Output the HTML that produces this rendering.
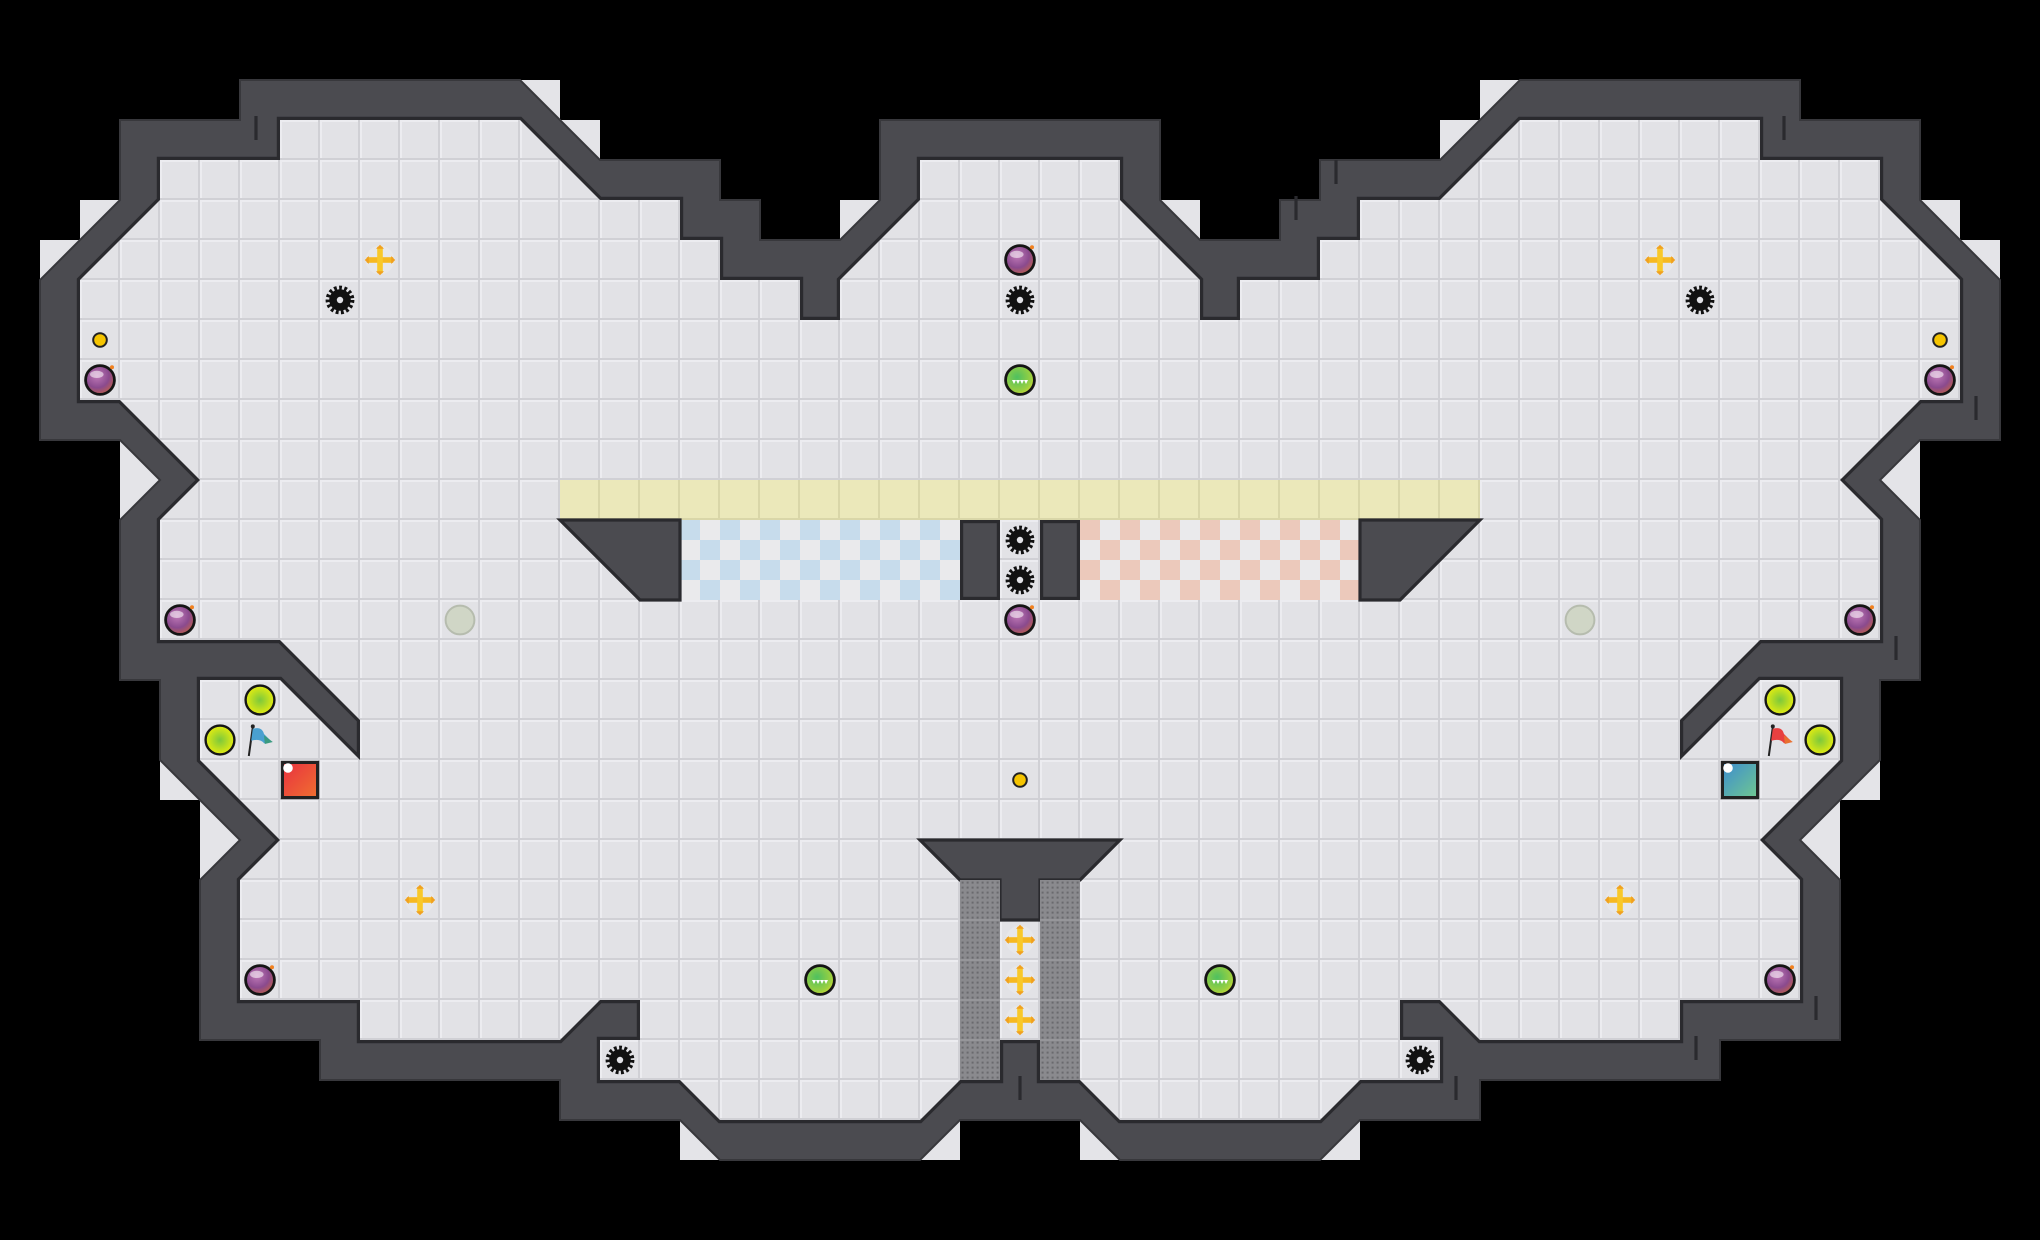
<!DOCTYPE html>
<html><head><meta charset="utf-8"><style>
html,body{margin:0;padding:0;background:#000;}
svg{display:block;}
</style></head><body>
<svg width="2040" height="1240" viewBox="0 0 51 31" xmlns="http://www.w3.org/2000/svg">
<defs>
<pattern id="tile" patternUnits="userSpaceOnUse" width="1" height="1">
<rect width="1" height="1" fill="#e2e2e6"/>
<rect x="0" y="0" width="1" height="0.05" fill="#ececf0"/>
<rect x="0" y="0" width="0.05" height="1" fill="#ececf0"/>
<rect x="0" y="0.95" width="1" height="0.05" fill="#d0d0d5"/>
<rect x="0.95" y="0" width="0.05" height="1" fill="#d0d0d5"/>
</pattern>
<pattern id="ytile" patternUnits="userSpaceOnUse" width="1" height="1">
<rect width="1" height="1" fill="#ebe8ba"/>
<rect x="0.95" y="0" width="0.05" height="1" fill="#d9d6a8"/>
<rect x="0" y="0.95" width="1" height="0.05" fill="#d9d6a8"/>
</pattern>
<pattern id="bchk" patternUnits="userSpaceOnUse" width="1" height="1">
<rect width="1" height="1" fill="#eaeaec"/>
<rect x="0" y="0" width="0.5" height="0.5" fill="#c7dcec"/>
<rect x="0.5" y="0.5" width="0.5" height="0.5" fill="#c7dcec"/>
</pattern>
<pattern id="rchk" patternUnits="userSpaceOnUse" width="1" height="1">
<rect width="1" height="1" fill="#eaeaec"/>
<rect x="0" y="0" width="0.5" height="0.5" fill="#ecc9bb"/>
<rect x="0.5" y="0.5" width="0.5" height="0.5" fill="#ecc9bb"/>
</pattern>
<pattern id="grate" patternUnits="userSpaceOnUse" width="0.125" height="0.125">
<rect width="0.125" height="0.125" fill="#8a8a8e"/>
<rect x="0.04" y="0.04" width="0.05" height="0.05" fill="#6a6a6e"/>
</pattern>
<radialGradient id="bomb" cx="0.4" cy="0.35" r="0.7"><stop offset="0" stop-color="#c07ab8"/><stop offset="0.6" stop-color="#8a4a8e"/><stop offset="1" stop-color="#c0604a"/></radialGradient>
<radialGradient id="green" cx="0.4" cy="0.4" r="0.7"><stop offset="0" stop-color="#4ec060"/><stop offset="0.7" stop-color="#9ad040"/><stop offset="1" stop-color="#e0e030"/></radialGradient>
<radialGradient id="lime" cx="0.5" cy="0.5" r="0.5"><stop offset="0" stop-color="#7cc83c"/><stop offset="1" stop-color="#e4ec10"/></radialGradient>
<linearGradient id="redsq" x1="0" y1="0" x2="1" y2="1"><stop offset="0" stop-color="#e83040"/><stop offset="1" stop-color="#f07030"/></linearGradient>
<linearGradient id="tealsq" x1="0" y1="0" x2="1" y2="1"><stop offset="0" stop-color="#3c8cd0"/><stop offset="1" stop-color="#70c890"/></linearGradient>
<g id="bombg"><circle r="0.36" fill="url(#bomb)" stroke="#151515" stroke-width="0.07"/><ellipse cx="-0.08" cy="-0.14" rx="0.17" ry="0.09" fill="#fff" opacity="0.55"/><circle cx="0.3" cy="-0.32" r="0.05" fill="#f08020"/></g>
<g id="gear"><circle r="0.27" fill="#111"/><circle r="0.31" fill="none" stroke="#111" stroke-width="0.1" stroke-dasharray="0.07 0.06"/><circle r="0.08" fill="#e2e2e6"/></g>
<g id="boost"><circle r="0.36" fill="#e8e8ea" opacity="0.8"/><rect x="-0.33" y="-0.07" width="0.66" height="0.14" fill="#f6b820"/><rect x="-0.07" y="-0.33" width="0.14" height="0.66" fill="#f8c828"/><path d="M-0.38 0 L-0.28 -0.1 L-0.28 0.1Z M0.38 0 L0.28 -0.1 L0.28 0.1Z M0 -0.38 L-0.1 -0.28 L0.1 -0.28Z M0 0.38 L-0.1 0.28 L0.1 0.28Z" fill="#f0a020"/></g>
<g id="gball"><circle r="0.36" fill="url(#green)" stroke="#151515" stroke-width="0.07"/><path d="M-0.2 0 L0.2 0 L0.15 0.1 L0.1 0 L0.05 0.1 L0 0 L-0.05 0.1 L-0.1 0 L-0.15 0.1Z" fill="#fff"/></g>
<g id="lball"><circle r="0.36" fill="url(#lime)" stroke="#151515" stroke-width="0.06"/></g>
</defs>

<!-- light tile squares behind diagonal walls -->
<g fill="#e4e4e8">
<rect x="13" y="2" width="1" height="1"/><rect x="14" y="3" width="1" height="1"/><rect x="21" y="5" width="1" height="1"/>
<rect x="2" y="5" width="1" height="1"/><rect x="1" y="6" width="1" height="1"/><rect x="3" y="11" width="1" height="2"/>
<rect x="4" y="19" width="1" height="1"/><rect x="5" y="20" width="1" height="2"/><rect x="17" y="28" width="1" height="1"/><rect x="23" y="28" width="1" height="1"/>
<rect x="37" y="2" width="1" height="1"/><rect x="36" y="3" width="1" height="1"/><rect x="29" y="5" width="1" height="1"/>
<rect x="48" y="5" width="1" height="1"/><rect x="49" y="6" width="1" height="1"/><rect x="47" y="11" width="1" height="2"/>
<rect x="46" y="19" width="1" height="1"/><rect x="45" y="20" width="1" height="2"/><rect x="33" y="28" width="1" height="1"/><rect x="27" y="28" width="1" height="1"/>
</g>

<!-- outer wall -->
<polygon fill="#4b4b50" stroke="#38383c" stroke-width="0.05" points="22,3 22,5 21,6 19,6 19,5 18,5 18,4 15,4 13,2 6,2 6,3 3,3 3,5 1,7 1,11 3,11 4,12 3,13 3,17 4,17 4,19 6,21 5,22 5,26 8,26 8,27 14,27 14,28 17,28 18,29 23,29 24,28 27,28 28,29 33,29 34,28 37,28 37,27 43,27 43,26 46,26 46,22 45,21 47,19 47,17 48,17 48,13 47,12 48,11 50,11 50,7 48,5 48,3 45,3 45,2 38,2 36,4 33,4 33,5 32,5 32,6 30,6 29,5 29,3"/>

<!-- floor -->
<polygon fill="url(#tile)" stroke="#2a2a2e" stroke-width="0.16" stroke-linejoin="miter" points="23,4 23,5 21,7 21,8 20,8 20,7 18,7 18,6 17,6 17,5 15,5 13,3 7,3 7,4 4,4 4,5 2,7 2,10 3,10 5,12 4,13 4,16 7,16 9,18 9,19 7,17 5,17 5,19 7,21 6,22 6,25 9,25 9,26 14,26 15,25 16,25 16,26 15,26 15,27 17,27 18,28 23,28 24,27 25,27 25,26 26,26 26,27 27,27 28,28 33,28 34,27 36,27 36,26 35,26 35,25 36,25 37,26 42,26 42,25 45,25 45,22 44,21 46,19 46,17 44,17 42,19 42,18 44,16 47,16 47,13 46,12 48,10 49,10 49,7 47,5 47,4 44,4 44,3 38,3 36,5 34,5 34,6 33,6 33,7 31,7 31,8 30,8 30,7 28,5 28,4"/>
<polygon fill="url(#tile)" points="23,4 23,5 21,7 21,8 20,8 20,7 18,7 18,6 17,6 17,5 15,5 13,3 7,3 7,4 4,4 4,5 2,7 2,10 3,10 5,12 4,13 4,16 7,16 9,18 9,19 7,17 5,17 5,19 7,21 6,22 6,25 9,25 9,26 14,26 15,25 16,25 16,26 15,26 15,27 17,27 18,28 23,28 24,27 25,27 25,26 26,26 26,27 27,27 28,28 33,28 34,27 36,27 36,26 35,26 35,25 36,25 37,26 42,26 42,25 45,25 45,22 44,21 46,19 46,17 44,17 42,19 42,18 44,16 47,16 47,13 46,12 48,10 49,10 49,7 47,5 47,4 44,4 44,3 38,3 36,5 34,5 34,6 33,6 33,7 31,7 31,8 30,8 30,7 28,5 28,4"/>

<!-- small wall notches -->
<g stroke="#2a2a2e" stroke-width="0.08">
<line x1="6.4" y1="2.9" x2="6.4" y2="3.5"/><line x1="44.6" y1="2.9" x2="44.6" y2="3.5"/>
<line x1="25.5" y1="26.9" x2="25.5" y2="27.5"/>
<line x1="32.4" y1="4.9" x2="32.4" y2="5.5"/><line x1="33.4" y1="4" x2="33.4" y2="4.6"/>
<line x1="49.4" y1="9.9" x2="49.4" y2="10.5"/><line x1="47.4" y1="15.9" x2="47.4" y2="16.5"/>
<line x1="45.4" y1="24.9" x2="45.4" y2="25.5"/><line x1="42.4" y1="25.9" x2="42.4" y2="26.5"/>
<line x1="36.4" y1="26.9" x2="36.4" y2="27.5"/>
</g>

<!-- middle bar -->
<rect x="14" y="12" width="23" height="1" fill="url(#ytile)"/>
<rect x="17" y="13" width="7" height="2" fill="url(#bchk)"/>
<rect x="27" y="13" width="7" height="2" fill="url(#rchk)"/>
<g fill="#4b4b50" stroke="#2a2a2e" stroke-width="0.08">
<polygon points="14,13 17,13 17,15 16,15"/>
<polygon points="37,13 34,13 34,15 35,15"/>
<rect x="24.04" y="13.04" width="0.92" height="1.92"/>
<rect x="26.04" y="13.04" width="0.92" height="1.92"/>
<polygon points="23,21 28,21 27,22 26,22 26,23 25,23 25,22 24,22"/>
</g>
<rect x="24" y="22" width="1" height="5" fill="url(#grate)"/>
<rect x="26" y="22" width="1" height="5" fill="url(#grate)"/>
<g stroke="#9a9a9e" stroke-width="0.04"><line x1="24" y1="23" x2="25" y2="23"/><line x1="24" y1="24" x2="25" y2="24"/><line x1="24" y1="25" x2="25" y2="25"/><line x1="24" y1="26" x2="25" y2="26"/><line x1="26" y1="23" x2="27" y2="23"/><line x1="26" y1="24" x2="27" y2="24"/><line x1="26" y1="25" x2="27" y2="25"/><line x1="26" y1="26" x2="27" y2="26"/></g>

<!-- items -->
<use href="#bombg" x="25.5" y="6.5"/><use href="#bombg" x="2.5" y="9.5"/><use href="#bombg" x="48.5" y="9.5"/>
<use href="#bombg" x="4.5" y="15.5"/><use href="#bombg" x="46.5" y="15.5"/><use href="#bombg" x="25.5" y="15.5"/>
<use href="#bombg" x="6.5" y="24.5"/><use href="#bombg" x="44.5" y="24.5"/>
<use href="#gear" x="8.5" y="7.5"/><use href="#gear" x="25.5" y="7.5"/><use href="#gear" x="42.5" y="7.5"/>
<use href="#gear" x="25.5" y="13.5"/><use href="#gear" x="25.5" y="14.5"/>
<use href="#gear" x="15.5" y="26.5"/><use href="#gear" x="35.5" y="26.5"/>
<use href="#boost" x="9.5" y="6.5"/><use href="#boost" x="41.5" y="6.5"/><use href="#boost" x="10.5" y="22.5"/><use href="#boost" x="40.5" y="22.5"/>
<use href="#boost" x="25.5" y="23.5"/><use href="#boost" x="25.5" y="24.5"/><use href="#boost" x="25.5" y="25.5"/>
<g fill="#f5c400" stroke="#222" stroke-width="0.05"><circle cx="2.5" cy="8.5" r="0.17"/><circle cx="48.5" cy="8.5" r="0.17"/><circle cx="25.5" cy="19.5" r="0.17"/></g>
<use href="#gball" x="25.5" y="9.5"/><use href="#gball" x="20.5" y="24.5"/><use href="#gball" x="30.5" y="24.5"/>
<g fill="#d0d6c6" stroke="#b6bcae" stroke-width="0.05"><circle cx="11.5" cy="15.5" r="0.36"/><circle cx="39.5" cy="15.5" r="0.36"/></g>
<use href="#lball" x="6.5" y="17.5"/><use href="#lball" x="5.5" y="18.5"/><use href="#lball" x="44.5" y="17.5"/><use href="#lball" x="45.5" y="18.5"/>
<!-- flags -->
<g transform="translate(6.5,18.5)"><line x1="-0.28" y1="0.4" x2="-0.18" y2="-0.32" stroke="#222" stroke-width="0.05"/><circle cx="-0.18" cy="-0.34" r="0.05" fill="#222"/><path d="M-0.18 -0.28 Q0.05 -0.35 0.1 -0.15 L0.3 0.05 L0.1 0.08 Q0 -0.05 -0.22 0.02Z" fill="#4aa0d0"/><path d="M0.1 -0.12 L0.32 0.05 L0.12 0.1Z" fill="#3a9a80"/></g>
<g transform="translate(44.5,18.5)"><line x1="-0.28" y1="0.4" x2="-0.18" y2="-0.32" stroke="#222" stroke-width="0.05"/><circle cx="-0.18" cy="-0.34" r="0.05" fill="#222"/><path d="M-0.18 -0.28 Q0.05 -0.35 0.1 -0.15 L0.3 0.05 L0.1 0.08 Q0 -0.05 -0.22 0.02Z" fill="#e84040"/><path d="M0.1 -0.12 L0.32 0.05 L0.12 0.1Z" fill="#e87030"/></g>
<rect x="7.06" y="19.06" width="0.88" height="0.88" fill="url(#redsq)" stroke="#222" stroke-width="0.08"/>
<circle cx="7.2" cy="19.2" r="0.12" fill="#fff"/>
<rect x="43.06" y="19.06" width="0.88" height="0.88" fill="url(#tealsq)" stroke="#222" stroke-width="0.08"/>
<circle cx="43.2" cy="19.2" r="0.12" fill="#fff"/>
</svg>
</body></html>
